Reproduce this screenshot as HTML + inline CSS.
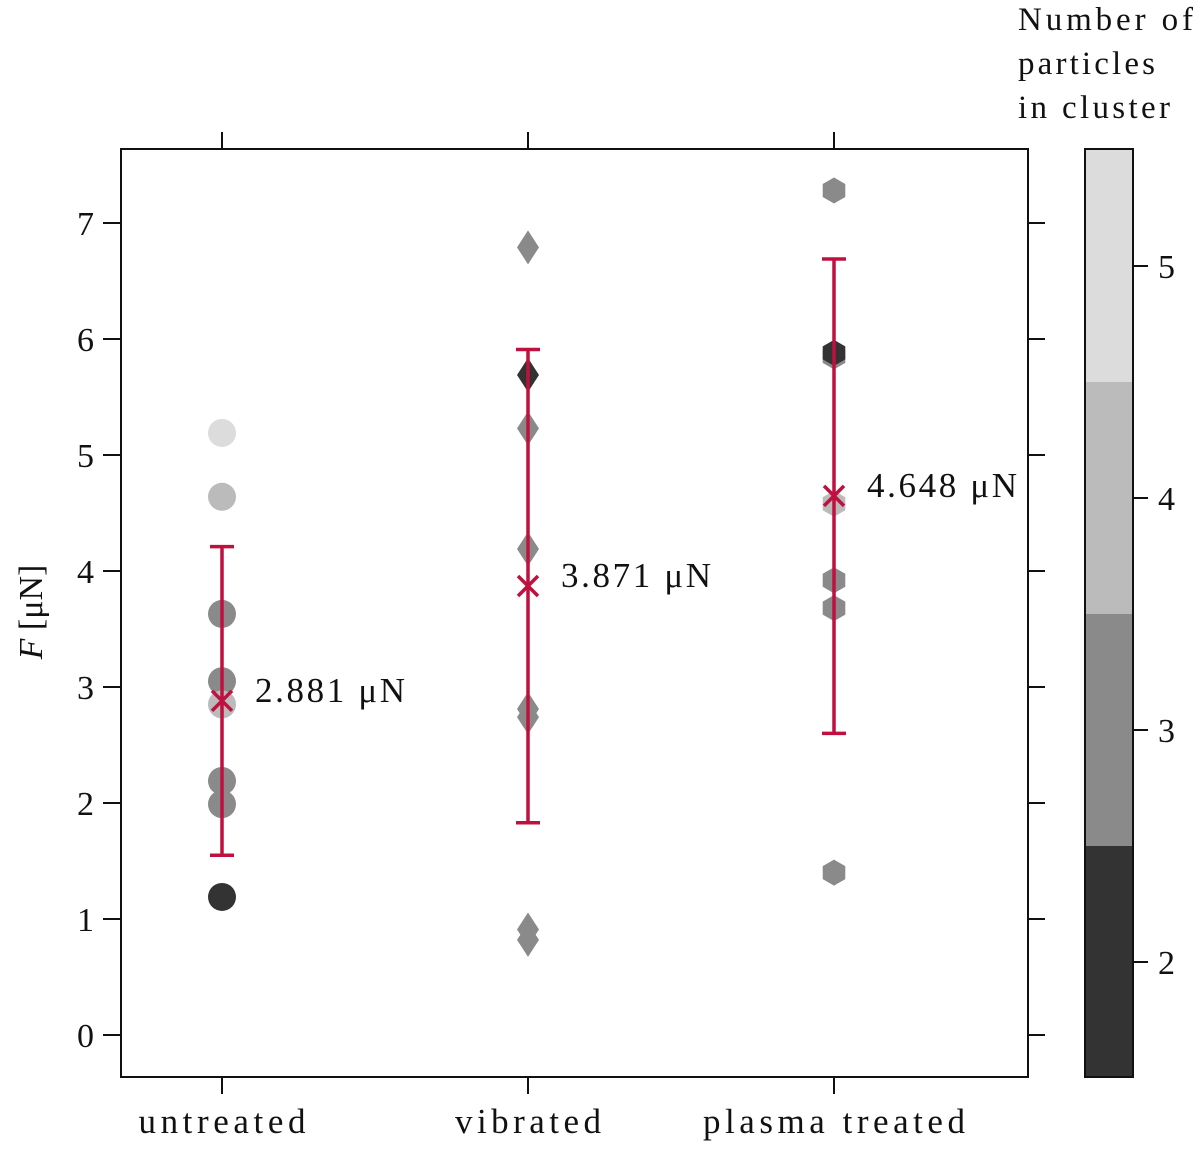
<!DOCTYPE html>
<html><head><meta charset="utf-8"><style>
body{margin:0;background:#fff;}
svg text{font-family:"Liberation Serif",serif;fill:#111;}
</style></head><body>
<svg id="chart" width="1200" height="1147" xmlns="http://www.w3.org/2000/svg">
<g id="marks"></g>
</svg>
<script>
const categories=["untreated","vibrated","plasma treated"];
const markerShapes=["circle","diamond","hexagon"];
const untreatedValues=[5.19,4.64,3.63,3.05,2.85,2.19,1.99,1.19];
const untreatedCounts=[5,4,3,3,4,3,3,2];
const vibratedValues=[6.79,5.69,5.23,4.19,2.81,2.74,0.91,0.82];
const vibratedCounts=[3,2,3,3,3,3,3,3];
const plasmaValues=[7.28,5.85,5.88,4.58,3.92,3.68,1.40];
const plasmaCounts=[3,3,2,4,3,3,3];
const means=[2.881,3.871,4.648];
const errLow=[1.55,1.83,2.60];
const errHigh=[4.21,5.91,6.69];
const yTicks=[0,1,2,3,4,5,6,7];
const cbTicks=[2,3,4,5];
const cbLevels=[2,3,4,5];
const cbColors=["#333333","#8a8a8a","#bbbbbb","#dcdcdc"];

const NS="http://www.w3.org/2000/svg";
const svg=document.getElementById('chart');
const g=document.getElementById('marks');
const X0=121,X1=1028,Y0=149,Y1=1077;
const xS=i=>222+306*i;
const yS=v=>1035-116*v;
const cbY=v=>962-232*(v-2);
const catWidths=[167,146,262];
function el(tag,attrs,parent){const e=document.createElementNS(NS,tag);for(const k in attrs)e.setAttribute(k,attrs[k]);(parent||svg).appendChild(e);return e;}
function colorFor(c){return cbColors[cbLevels.indexOf(c)];}

let fr=el('rect',{x:X0,y:Y0,width:X1-X0,height:Y1-Y0,fill:'none',stroke:'#111','stroke-width':2});


yTicks.forEach(v=>{
  let t=el('line',{x1:103,x2:X0,y1:yS(v),y2:yS(v),stroke:'#111','stroke-width':2});
  
  
  let t2=el('line',{x1:X1,x2:1045,y1:yS(v),y2:yS(v),stroke:'#111','stroke-width':2});
  
  
  let l=el('text',{x:94,y:yS(v)+12,'font-size':34,'text-anchor':'end'});l.textContent=v;
  
  
});
categories.forEach((c,i)=>{
  let t=el('line',{x1:xS(i),x2:xS(i),y1:Y1,y2:1094,stroke:'#111','stroke-width':2});
  
  
  let t2=el('line',{x1:xS(i),x2:xS(i),y1:132,y2:Y0,stroke:'#111','stroke-width':2});
  
  
  let l=el('text',{x:xS(i)-catWidths[i]/2,y:1133,'font-size':35,textLength:catWidths[i],lengthAdjust:'spacing'});l.textContent=c;
  
  
});
let yt=el('text',{x:0,y:0,'font-size':34,'text-anchor':'middle',transform:'translate(42,612) rotate(-90)'});
yt.innerHTML='<tspan font-style="italic">F</tspan> [μN]';



function marker(shape,cx,cy,fill){
  let e;
  if(shape==='circle')e=el('circle',{cx,cy,r:14,fill},g);
  else if(shape==='diamond')e=el('polygon',{points:`${cx},${cy-17} ${cx+11},${cy} ${cx},${cy+17} ${cx-11},${cy}`,fill},g);
  else{let p=[];for(let k=0;k<6;k++){let a=Math.PI/3*k-Math.PI/2;p.push((cx+13*Math.cos(a)).toFixed(1)+','+(cy+13*Math.sin(a)).toFixed(1));}e=el('polygon',{points:p.join(' '),fill},g);}
  return e;
}
const sets=[[untreatedValues,untreatedCounts],[vibratedValues,vibratedCounts],[plasmaValues,plasmaCounts]];
sets.forEach(([vals,cnts],i)=>{
  vals.forEach((v,j)=>{
    let m=marker(markerShapes[i],xS(i),yS(v),colorFor(cnts[j]));
    
    
  });
});
const red='#c0103f';
categories.forEach((c,i)=>{
  const x=xS(i);
  let v=el('line',{x1:x,x2:x,y1:yS(errLow[i]),y2:yS(errHigh[i]),stroke:red,'stroke-width':3.5},g);
  
  
  [errLow[i],errHigh[i]].forEach(e=>{
    let cap=el('line',{x1:x-12,x2:x+12,y1:yS(e),y2:yS(e),stroke:red,'stroke-width':3.5},g);
    
    
  });
  const my=yS(means[i]);
  let mk=el('path',{d:`M${x-10},${my-10}L${x+10},${my+10}M${x-10},${my+10}L${x+10},${my-10}`,stroke:red,'stroke-width':3.5,fill:'none'},g);
  
  
  let lb=el('text',{x:x+33,y:my+1,'font-size':35,textLength:150,lengthAdjust:'spacing'},g);lb.textContent=means[i].toFixed(3)+' μN';
  
  
});
cbLevels.forEach((lv,k)=>{
  let r=el('rect',{x:1085,y:cbY(lv+0.5),width:48,height:cbY(lv-0.5)-cbY(lv+0.5),fill:cbColors[k]});
  
  
});
let cbf=el('rect',{x:1085,y:Y0,width:48,height:Y1-Y0,fill:'none',stroke:'#111','stroke-width':2});


cbTicks.forEach(v=>{
  let t=el('line',{x1:1133,x2:1148,y1:cbY(v),y2:cbY(v),stroke:'#111','stroke-width':2});
  
  
  let l=el('text',{x:1158,y:cbY(v)+12,'font-size':34});l.textContent=v;
  
  
});
const titleLines=["Number of","particles","in cluster"];
const titleWidths=[175,137,152];
titleLines.forEach((s,k)=>{
  let l=el('text',{x:1018,y:30+44*k,'font-size':33,textLength:titleWidths[k],lengthAdjust:'spacing'});l.textContent=s;
  
  
});
</script>
</body></html>
